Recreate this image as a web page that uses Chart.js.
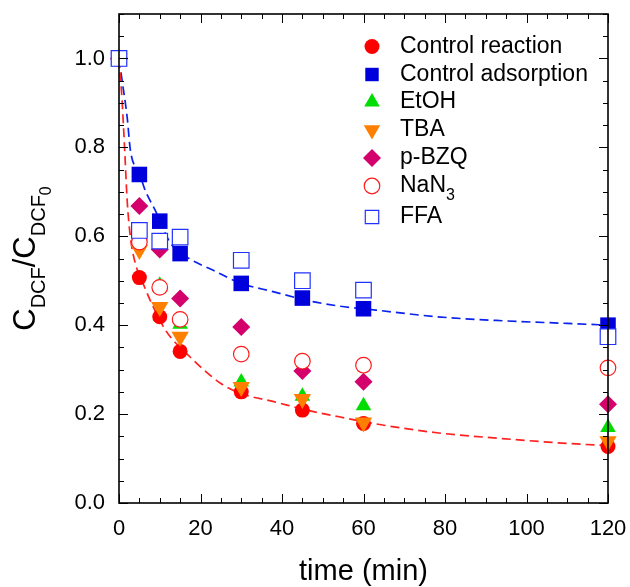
<!DOCTYPE html>
<html><head><meta charset="utf-8">
<script src="https://cdn.jsdelivr.net/npm/chart.js@4.4.1/dist/chart.umd.min.js"></script>
<style>html,body{margin:0;padding:0;background:#fff;}#wrap{width:630px;height:587px;}</style>
</head><body><div id="wrap"><canvas id="c" width="630" height="587"></canvas></div>
<script>
// ---- data ----
const timeMin = [0, 5, 10, 15, 30, 45, 60, 120];
const controlReaction   = [1.0, 0.507, 0.419, 0.341, 0.250, 0.209, 0.179, 0.127];
const controlAdsorption = [1.0, 0.739, 0.634, 0.561, 0.494, 0.461, 0.437, 0.400];
const etoh              = [1.0, 0.595, 0.490, 0.402, 0.272, 0.240, 0.219, 0.170];
const tba               = [1.0, 0.569, 0.441, 0.374, 0.261, 0.234, 0.181, 0.139];
const pbzq              = [1.0, 0.668, 0.570, 0.460, 0.396, 0.297, 0.273, 0.222];
const nan3              = [1.0, 0.587, 0.485, 0.413, 0.335, 0.319, 0.310, 0.304];
const ffa               = [1.0, 0.613, 0.589, 0.598, 0.546, 0.500, 0.479, 0.374];
// dashed fitted curves
const reactionFitTime  = [0, 0.75, 1.4, 2, 2.8, 4, 5.6, 8, 11.4, 14.2, 17.4, 20, 25, 30, 38, 46, 54, 63, 78, 94, 110, 120];
const reactionFitValue = [1.0, 0.906, 0.793, 0.681, 0.598, 0.539, 0.501, 0.449, 0.389, 0.357, 0.329, 0.306, 0.269, 0.246, 0.228, 0.209, 0.194, 0.178, 0.158, 0.145, 0.134, 0.129];
const adsorptionFitTime  = [0, 0.75, 2, 2.8, 5, 6.45, 8.9, 12.2, 13.8, 17.5, 23, 30, 38, 46, 54, 63, 78, 94, 110, 120];
const adsorptionFitValue = [1.0, 0.951, 0.868, 0.793, 0.742, 0.703, 0.658, 0.591, 0.572, 0.548, 0.524, 0.494, 0.475, 0.456, 0.443, 0.434, 0.419, 0.410, 0.404, 0.400];
const xTickValues = [0, 20, 40, 60, 80, 100, 120];
const yTickValues = [0, 0.2, 0.4, 0.6, 0.8, 1.0];
const seriesNames = ['Control reaction', 'Control adsorption', 'EtOH', 'TBA', 'p-BZQ', 'NaN3', 'FFA'];
const seriesValues = [controlReaction, controlAdsorption, etoh, tba, pbzq, nan3, ffa];

// ---- styles ----
const FONT = "'Liberation Sans', Arial, Helvetica, sans-serif";
const styles = [
  {pointStyle:'circle',   rotation:0,   radius:7.5,  bg:'#ff0000', border:'#ff0000', bw:0},
  {pointStyle:'rect',     rotation:0,   radius:11,   bg:'#0000dd', border:'#0000dd', bw:0},
  {pointStyle:'triangle', rotation:0,   radius:9,    bg:'#00dd00', border:'#00dd00', bw:0},
  {pointStyle:'triangle', rotation:180, radius:10,   bg:'#ff8000', border:'#ff8000', bw:0},
  {pointStyle:'rectRot',  rotation:0,   radius:9,    bg:'#d4006c', border:'#d4006c', bw:0},
  {pointStyle:'circle',   rotation:0,   radius:7.8,  bg:'#ffffff', border:'#ff1a1a', bw:1.2},
  {pointStyle:'rect',     rotation:0,   radius:11,   bg:'#ffffff', border:'#2233ff', bw:1.2}
];

const datasets = seriesValues.map((vals, i) => ({
  type: 'scatter',
  label: seriesNames[i],
  data: timeMin.map((t, j) => ({x: t, y: vals[j]})),
  pointStyle: styles[i].pointStyle,
  rotation: styles[i].rotation,
  pointRadius: styles[i].radius,
  pointHoverRadius: styles[i].radius,
  backgroundColor: styles[i].bg,
  borderColor: styles[i].border,
  borderWidth: styles[i].bw,
  showLine: false,
  clip: false,
  order: 6 - i
}));
datasets.push({
  type: 'line', label: 'fit reaction',
  data: reactionFitTime.map((t, j) => ({x: t, y: reactionFitValue[j]})),
  borderColor: '#ff2020', borderWidth: 1.7, borderDash: [9, 5],
  pointRadius: 0, fill: false, cubicInterpolationMode: 'monotone', clip: false, order: 8
});
datasets.push({
  type: 'line', label: 'fit adsorption',
  data: adsorptionFitTime.map((t, j) => ({x: t, y: adsorptionFitValue[j]})),
  borderColor: '#0a22ee', borderWidth: 1.7, borderDash: [9, 5],
  pointRadius: 0, fill: false, cubicInterpolationMode: 'monotone', clip: false, order: 9
});

function seg(ctx, x1, y1, x2, y2) { ctx.beginPath(); ctx.moveTo(x1, y1); ctx.lineTo(x2, y2); ctx.stroke(); }

const framePlugin = {
  id: 'frame',
  afterDatasetsDraw(chart) {
    const {ctx, chartArea: a, scales: {x, y}} = chart;
    ctx.save();
    ctx.strokeStyle = '#000';
    ctx.lineWidth = 1;
    const xMinorStep = 5, yMinorStep = 0.05;
    for (let i = 0; i * xMinorStep <= x.max + 1e-9; i++) {
      const v = i * xMinorStep;
      const px = Math.round(x.getPixelForValue(v)) + 0.5;
      const len = (v % 20 === 0) ? 9 : 5;
      seg(ctx, px, a.bottom, px, a.bottom - len);
      seg(ctx, px, a.top, px, a.top + len);
    }
    for (let i = 0; i * yMinorStep <= y.max + 1e-9; i++) {
      const v = i * yMinorStep;
      const py = Math.round(y.getPixelForValue(v)) + 0.5;
      const len = (i % 4 === 0) ? 9 : 5;
      seg(ctx, a.left, py, a.left + len, py);
      seg(ctx, a.right, py, a.right - len, py);
    }
    ctx.lineWidth = 1.6;
    ctx.strokeRect(a.left, a.top, a.right - a.left, a.bottom - a.top);
    ctx.restore();
  },
  afterDraw(chart) {
    const {ctx, chartArea: a} = chart;
    ctx.save();
    ctx.fillStyle = '#000';
    // x title
    ctx.font = `29px ${FONT}`;
    ctx.textAlign = 'center';
    ctx.textBaseline = 'alphabetic';
    ctx.fillText('time (min)', (a.left + a.right) / 2, 580);
    // y title with subscripts
    const parts = [
      {t:'C', s:31, dy:0}, {t:'DCF', s:20, dy:10}, {t:'/C', s:31, dy:0},
      {t:'DCF', s:20, dy:10}, {t:'0', s:16, dy:16}
    ];
    let total = 0;
    parts.forEach(p => { ctx.font = `${p.s}px ${FONT}`; p.w = ctx.measureText(p.t).width; total += p.w; });
    ctx.translate(35, (a.top + a.bottom) / 2);
    ctx.rotate(-Math.PI / 2);
    ctx.textAlign = 'left';
    let cx = -total / 2;
    parts.forEach(p => { ctx.font = `${p.s}px ${FONT}`; ctx.fillText(p.t, cx, p.dy); cx += p.w; });
    ctx.restore();

    // legend
    ctx.save();
    const lx = 372, tx = 400;
    const rows = [46.5, 74.5, 102, 130, 158, 186, 217];
    seriesNames.forEach((name, i) => {
      const st = styles[i];
      ctx.fillStyle = st.bg;
      ctx.strokeStyle = st.border;
      ctx.lineWidth = st.bw;
      Chart.helpers.drawPoint(ctx, {pointStyle: st.pointStyle, rotation: st.rotation, radius: Math.min(st.radius, 9.5), borderWidth: st.bw}, lx, rows[i]);
      ctx.fillStyle = '#000';
      ctx.textAlign = 'left';
      ctx.textBaseline = 'middle';
      ctx.font = `23px ${FONT}`;
      if (name === 'NaN3') {
        ctx.fillText('NaN', tx, rows[i]);
        const w = ctx.measureText('NaN').width;
        ctx.font = `16px ${FONT}`;
        ctx.fillText('3', tx + w, rows[i] + 10);
      } else {
        ctx.fillText(name, tx, rows[i]);
      }
    });
    ctx.restore();
  }
};

new Chart(document.getElementById('c'), {
  data: {datasets},
  options: {
    responsive: false,
    animation: false,
    devicePixelRatio: 1,
    layout: {padding: {top: 14, right: 22, left: 0, bottom: 0}},
    plugins: {legend: {display: false}, tooltip: {enabled: false}},
    scales: {
      x: {
        type: 'linear', min: 0, max: 120,
        afterBuildTicks: s => { s.ticks = xTickValues.map(v => ({value: v})); },
        afterFit: s => { s.height = 84; s.paddingLeft = 0; s.paddingRight = 0; },
        grid: {display: false, drawTicks: false},
        border: {display: false},
        ticks: {font: {size: 22, family: FONT}, color: '#000', padding: 13, maxRotation: 0, autoSkip: false}
      },
      y: {
        type: 'linear', min: 0, max: 1.1,
        afterBuildTicks: s => { s.ticks = yTickValues.map(v => ({value: v})); },
        afterFit: s => { s.width = 119; s.paddingTop = 0; s.paddingBottom = 0; },
        grid: {display: false, drawTicks: false},
        border: {display: false},
        ticks: {font: {size: 22, family: FONT}, color: '#000', padding: 14, autoSkip: false,
                callback: v => Number(v).toFixed(1)}
      }
    }
  },
  plugins: [framePlugin]
});
</script>
</body></html>
